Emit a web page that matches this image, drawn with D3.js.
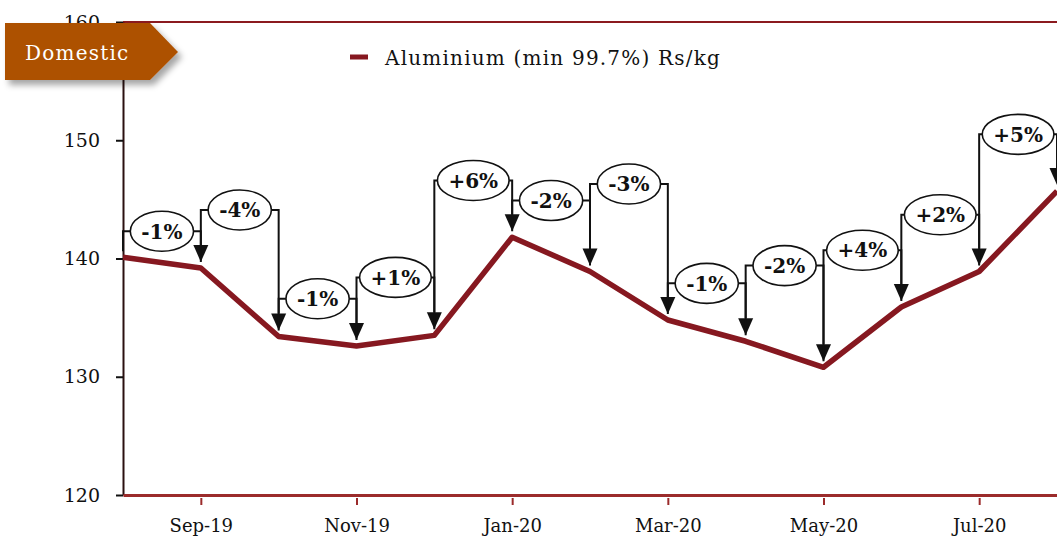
<!DOCTYPE html>
<html>
<head>
<meta charset="utf-8">
<script src="https://cdn.jsdelivr.net/npm/d3@7"></script>
<style>
  body { margin: 0; background: #fff; }
  svg { display: block; font-family: "DejaVu Serif", Georgia, serif; }
</style>
</head>
<body>
<div id="chart"></div>
<script>
// Monthly domestic aluminium price (Rs/kg)
const months = ["Aug-19", "Sep-19", "Oct-19", "Nov-19", "Dec-19", "Jan-20", "Feb-20",
                "Mar-20", "Apr-20", "May-20", "Jun-20", "Jul-20", "Aug-20"];
const prices = [140.1, 139.2, 133.4, 132.6, 133.5, 141.8, 138.9, 134.8, 133.0, 130.8, 135.9, 138.9, 145.7];
// height (in Rs/kg) where each month-on-month change bubble sits
const calloutLevels = [142.3, 144.1, 136.6, 138.4, 146.6, 144.9, 146.3, 137.9, 139.4, 140.7, 143.7, 150.5];
const yTicks = [120, 130, 140, 150, 160];
const xTickLabels = ["Sep-19", "Nov-19", "Jan-20", "Mar-20", "May-20", "Jul-20"];
const seriesName = "Aluminium (min 99.7%) Rs/kg";

const width = 1057, height = 537;
const margin = {top: 22, right: 0, bottom: 42, left: 123};

const svg = d3.select("#chart")
    .append("svg")
    .attr("width", width)
    .attr("height", height);

const defs = svg.append("defs");
const shadow = defs.append("filter").attr("id", "shadow")
    .attr("x", "-10%").attr("y", "-20%").attr("width", "130%").attr("height", "160%");
shadow.append("feDropShadow")
    .attr("dx", 4).attr("dy", 5).attr("stdDeviation", 3)
    .attr("flood-color", "#000").attr("flood-opacity", 0.35);

const x = d3.scalePoint()
    .domain(months)
    .range([margin.left, width - margin.right]);

const y = d3.scaleLinear()
    .domain([120, 160])
    .range([height - margin.bottom, margin.top]);

// Top border
svg.append("line")
    .attr("x1", margin.left).attr("x2", width)
    .attr("y1", y(160)).attr("y2", y(160))
    .attr("stroke", "#8b1a1f").attr("stroke-width", 2);

// Y axis
const yAxis = svg.append("g")
    .attr("transform", `translate(${margin.left},0)`)
    .call(d3.axisLeft(y).tickValues(yTicks).tickSize(7).tickSizeOuter(0).tickPadding(16));
yAxis.select(".domain").attr("stroke", "#2b1010").attr("stroke-width", 2);
yAxis.selectAll(".tick line").attr("stroke", "#111").attr("stroke-width", 2);
yAxis.selectAll(".tick text")
    .attr("fill", "#111")
    .style("font-size", "19px")
    .style("font-family", "'DejaVu Serif', serif");

// X axis
const xAxis = svg.append("g")
    .attr("transform", `translate(0,${y(120)})`)
    .call(d3.axisBottom(x).tickValues(xTickLabels).tickSize(10).tickSizeOuter(0).tickPadding(14));
xAxis.select(".domain").attr("stroke", "#9b2b2b").attr("stroke-width", 3);
xAxis.selectAll(".tick line").attr("y1", 3).attr("stroke", "#9b2b2b").attr("stroke-width", 2);
xAxis.selectAll(".tick text")
    .attr("fill", "#111")
    .style("font-size", "18px")
    .style("font-family", "'DejaVu Serif', serif");

// Price line
const line = d3.line()
    .x((d, i) => x(months[i]))
    .y(d => y(d));

svg.append("path")
    .datum(prices)
    .attr("fill", "none")
    .attr("stroke", "#861820")
    .attr("stroke-width", 5.5)
    .attr("stroke-linejoin", "round")
    .attr("d", line);

// Month-on-month change callouts
const gap = 6, headH = 17, headW = 15;
const fmtPct = (a, b) => {
    const r = Math.round((b / a - 1) * 100);
    return (r >= 0 ? "+" : "-") + Math.abs(r) + "%";
};

const callouts = svg.append("g").attr("class", "callouts");
calloutLevels.forEach((lvl, k) => {
    const i = k + 1;
    const x0 = x(months[i - 1]), x1 = x(months[i]);
    const yc = y(lvl);
    const cx = (x0 + x1) / 2;
    const g = callouts.append("g");

    const ell = g.append("ellipse");
    const txt = g.append("text")
        .attr("x", cx).attr("y", yc)
        .attr("dy", "0.36em")
        .attr("text-anchor", "middle")
        .style("font-size", "20px")
        .style("font-weight", "bold")
        .attr("fill", "#111")
        .text(fmtPct(prices[i - 1], prices[i]));
    const rx = Math.min(txt.node().getComputedTextLength() / 2 + 11, (x1 - x0) / 2 - 1);
    ell.attr("cx", cx).attr("cy", yc).attr("rx", rx).attr("ry", 20)
        .attr("fill", "#fff").attr("stroke", "#111").attr("stroke-width", 1.6);

    const tip = y(prices[i]) - gap;
    const path = d3.path();
    // left leg down to previous point
    path.moveTo(x0, y(prices[i - 1]) - gap);
    path.lineTo(x0, yc);
    path.lineTo(cx - rx, yc);
    // right leg down to current point
    path.moveTo(cx + rx, yc);
    path.lineTo(x1, yc);
    path.lineTo(x1, tip - headH);
    g.insert("path", "ellipse")
        .attr("d", path.toString())
        .attr("fill", "none")
        .attr("stroke", "#111")
        .attr("stroke-width", 2);

    g.append("path")
        .attr("d", `M${x1 - headW / 2},${tip - headH}L${x1 + headW / 2},${tip - headH}L${x1},${tip}Z`)
        .attr("fill", "#111");
});

// Legend
const legend = svg.append("g").attr("transform", "translate(350,57)");
legend.append("rect")
    .attr("x", 0).attr("y", -2.5)
    .attr("width", 18).attr("height", 5)
    .attr("fill", "#861820");
legend.append("text")
    .attr("x", 35).attr("y", 8)
    .style("font-size", "20px")
    .style("letter-spacing", "1.2px")
    .attr("fill", "#111")
    .text(seriesName);

// "Domestic" badge
const badge = svg.append("g");
badge.append("polygon")
    .attr("points", "5,23 150,23 178,52 150,80 5,80")
    .attr("fill", "#ad5100")
    .attr("filter", "url(#shadow)");
badge.append("text")
    .attr("x", 25).attr("y", 60)
    .style("font-size", "20px")
    .style("letter-spacing", "1.2px")
    .attr("fill", "#fff")
    .text("Domestic");
</script>
</body>
</html>
